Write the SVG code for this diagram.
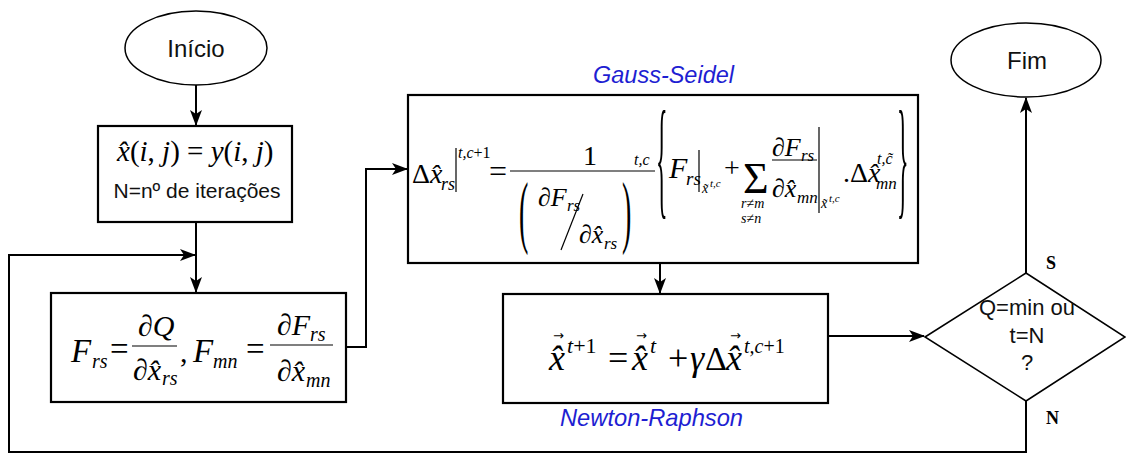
<svg xmlns="http://www.w3.org/2000/svg" width="1126" height="454" viewBox="0 0 1126 454">
<style>
.bx{fill:#fff;stroke:#000;stroke-width:2.2}
.el{fill:#fff;stroke:#000;stroke-width:1.5}
.ln{fill:none;stroke:#000;stroke-width:2}
.thin{fill:none;stroke:#000;stroke-width:1.2}
.sans{font-family:"Liberation Sans",Arial,sans-serif;fill:#111}
.lbl{font-family:"Liberation Sans",Arial,sans-serif;font-style:italic;fill:#1e1ed2}
.mr{font-family:"Liberation Serif","DejaVu Serif","Times New Roman",serif;fill:#000}
.i{font-style:italic}
.ar{font-family:"DejaVu Sans",sans-serif;font-style:normal}
.yn{font-family:"Liberation Serif","Times New Roman",serif;font-weight:bold;font-size:18px;fill:#000}
</style>
<defs>
<marker id="ah" markerWidth="16" markerHeight="12" refX="15" refY="6" orient="auto" markerUnits="userSpaceOnUse">
<path d="M0,0 L16,6 L0,12 L4,6 z" fill="#000"/>
</marker>
</defs>
<rect width="1126" height="454" fill="#fff"/>

<g id="connectors">
<path class="ln" d="M196,85 V125" marker-end="url(#ah)"/>
<path class="ln" d="M196,222 V292" marker-end="url(#ah)"/>
<path class="ln" d="M1026,401 V452 H9 V255 H195" marker-end="url(#ah)"/>
<path class="ln" d="M346,347 H366 V169 H407" marker-end="url(#ah)"/>
<path class="ln" d="M660,263 V293" marker-end="url(#ah)"/>
<path class="ln" d="M828,336 H924" marker-end="url(#ah)"/>
<path class="ln" d="M1026,273 V98" marker-end="url(#ah)"/>
</g>

<g id="inicio">
<ellipse class="el" cx="196" cy="48" rx="71" ry="37"/>
<text class="sans" x="196" y="57" text-anchor="middle" font-size="24">Início</text>
</g>

<g id="init">
<rect class="bx" x="98" y="126" width="194" height="96"/>
<text class="mr" x="117" y="161" font-size="29"><tspan class="i">x̂</tspan>(<tspan class="i">i</tspan>, <tspan class="i">j</tspan>) = <tspan class="i">y</tspan>(<tspan class="i">i</tspan>, <tspan class="i">j</tspan>)</text>
<text class="sans" x="197" y="198" font-size="21" text-anchor="middle">N=nº de iterações</text>
</g>

<g id="derivs">
<rect class="bx" x="51" y="293" width="295" height="109"/>
<line class="thin" x1="132" y1="346" x2="177" y2="346"/>
<line class="thin" x1="270" y1="345" x2="333" y2="345"/>
<text class="mr" font-size="30"><tspan x="71" y="362" font-size="33" class="i">F</tspan><tspan x="92" y="368" font-size="20" class="i">rs</tspan><tspan x="110" y="360" font-size="33">=</tspan><tspan x="138" y="336">∂</tspan><tspan class="i">Q</tspan><tspan x="133" y="380">∂</tspan><tspan class="i">x̂</tspan><tspan x="162" y="385" font-size="20" class="i">rs</tspan><tspan x="180" y="362">,</tspan><tspan x="193" y="362" font-size="33" class="i">F</tspan><tspan x="213" y="368" font-size="20" class="i">mn</tspan><tspan x="246" y="360" font-size="33">=</tspan><tspan x="277" y="335">∂</tspan><tspan class="i">F</tspan><tspan x="310" y="341" font-size="20" class="i">rs</tspan><tspan x="277" y="381">∂</tspan><tspan class="i">x̂</tspan><tspan x="306" y="387" font-size="20" class="i">mn</tspan></text>
</g>

<g id="gauss-seidel">
<text class="lbl" x="593" y="83" font-size="23" textLength="141" lengthAdjust="spacingAndGlyphs">Gauss-Seidel</text>
<rect class="bx" x="408" y="95" width="510" height="168"/>
<line class="thin" x1="456" y1="148" x2="456" y2="192"/>
<line class="thin" x1="510" y1="171" x2="655" y2="171"/>
<line class="thin" x1="583" y1="194" x2="561" y2="250"/>
<line class="thin" x1="699" y1="150" x2="699" y2="192"/>
<line class="thin" x1="772" y1="160" x2="817" y2="160"/>
<line class="thin" x1="819" y1="127" x2="819" y2="213"/>
<text class="mr" font-size="28"><tspan x="412" y="183">Δ</tspan><tspan class="i">x̂</tspan><tspan x="441" y="190" font-size="18" class="i">rs</tspan><tspan x="458" y="158" font-size="16" class="i">t,c</tspan><tspan font-size="16">+1</tspan><tspan x="489" y="182" font-size="32">=</tspan></text>
<text class="mr" x="590" y="165" font-size="28" text-anchor="middle">1</text>
<text class="mr" font-size="28" transform="translate(519,238) scale(1,2.9)">(</text>
<text class="mr" font-size="26"><tspan x="538" y="206">∂</tspan><tspan class="i">F</tspan><tspan x="567" y="211" font-size="17" class="i">rs</tspan><tspan x="579" y="243">∂</tspan><tspan class="i">x̂</tspan><tspan x="604" y="249" font-size="17" class="i">rs</tspan></text>
<text class="mr" font-size="28" transform="translate(622,238) scale(1,2.9)">)</text>
<text class="mr i" x="634" y="165" font-size="16">t,c</text>
<text class="mr" font-size="24" transform="translate(656,201) scale(1,5.5)">{</text>
<text class="mr" font-size="28"><tspan x="669" y="178" font-size="30" class="i">F</tspan><tspan x="686" y="185" font-size="19" class="i">rs</tspan><tspan x="702" y="193" font-size="14" class="i">x̃</tspan><tspan x="710" y="187" font-size="11" class="i">t,c</tspan><tspan x="724" y="177">+</tspan><tspan x="743" y="193" font-size="44">Σ</tspan><tspan x="741" y="208" font-size="14" class="i">r</tspan><tspan font-size="14">≠</tspan><tspan font-size="14" class="i">m</tspan><tspan x="741" y="223" font-size="14" class="i">s</tspan><tspan font-size="14">≠</tspan><tspan font-size="14" class="i">n</tspan><tspan x="772" y="156" font-size="26">∂</tspan><tspan font-size="26" class="i">F</tspan><tspan x="801" y="161" font-size="17" class="i">rs</tspan><tspan x="772" y="197" font-size="26">∂</tspan><tspan font-size="26" class="i">x̂</tspan><tspan x="797" y="203" font-size="17" class="i">mn</tspan><tspan x="821" y="208" font-size="14" class="i">x̃</tspan><tspan x="829" y="202" font-size="11" class="i">t,c</tspan><tspan x="843" y="182">.Δ</tspan><tspan class="i">x̂</tspan><tspan x="877" y="164" font-size="16" class="i">t,c̃</tspan><tspan x="876" y="189" font-size="17" class="i">mn</tspan></text>
<text class="mr" font-size="24" transform="translate(897,201) scale(1,5.5)">}</text>
</g>

<g id="newton-raphson">
<rect class="bx" x="503" y="294" width="325" height="109"/>
<text class="mr" font-size="36"><tspan x="549" y="370" class="i">x̂</tspan><tspan x="567" y="353" font-size="22" class="i">t</tspan><tspan font-size="22">+1</tspan><tspan x="608" y="370">=</tspan><tspan x="632" y="370" class="i">x̂</tspan><tspan x="650" y="353" font-size="22" class="i">t</tspan><tspan x="668" y="370">+</tspan><tspan x="690" y="370" class="i">γ</tspan><tspan x="705" y="370" font-size="34">Δ</tspan><tspan x="726" y="370" class="i">x̂</tspan><tspan x="744" y="353" font-size="20" class="i">t,c</tspan><tspan font-size="20">+1</tspan><tspan x="553" y="340" font-size="13" class="ar">→</tspan><tspan x="636" y="340" font-size="13" class="ar">→</tspan><tspan x="730" y="340" font-size="13" class="ar">→</tspan></text>
<text class="lbl" x="560" y="426" font-size="24" textLength="183" lengthAdjust="spacingAndGlyphs">Newton-Raphson</text>
</g>

<g id="decision">
<polygon class="el" points="925,337 1026,273 1125,337 1026,401"/>
<text class="sans" x="1027" y="315" font-size="22" text-anchor="middle">Q=min ou</text>
<text class="sans" x="1027" y="343" font-size="22" text-anchor="middle">t=N</text>
<text class="sans" x="1027" y="370" font-size="22" text-anchor="middle">?</text>
<text class="yn" x="1046" y="269">S</text>
<text class="yn" x="1046" y="424">N</text>
</g>

<g id="fim">
<ellipse class="el" cx="1026" cy="60" rx="75" ry="37"/>
<text class="sans" x="1027" y="69" text-anchor="middle" font-size="24">Fim</text>
</g>
</svg>
